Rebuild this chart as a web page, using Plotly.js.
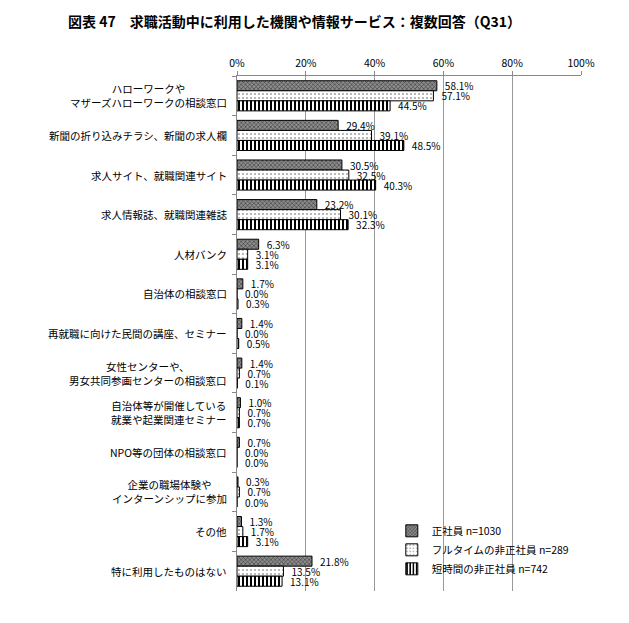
<!DOCTYPE html>
<html>
<head>
<meta charset="utf-8">
<script src="https://cdn.plot.ly/plotly-3.0.1.min.js"></script>
<style>
html,body{margin:0;padding:0;background:#fff;}
#chart{width:629px;height:623px;}
</style>
</head>
<body>
<div id="chart"></div>
<script>
const categories = [
  "ハローワークや<br>マザーズハローワークの相談窓口",
  "新聞の折り込みチラシ、新聞の求人欄",
  "求人サイト、就職関連サイト",
  "求人情報誌、就職関連雑誌",
  "人材バンク",
  "自治体の相談窓口",
  "再就職に向けた民間の講座、セミナー",
  "女性センターや、<br>男女共同参画センターの相談窓口",
  "自治体等が開催している<br>就業や起業関連セミナー",
  "NPO等の団体の相談窓口",
  "企業の職場体験や<br>インターンシップに参加",
  "その他",
  "特に利用したものはない"
];
const seriesNames = ["正社員 n=1030", "フルタイムの非正社員 n=289", "短時間の非正社員 n=742"];
const seiShain = [58.1, 29.4, 30.5, 23.2, 6.3, 1.7, 1.4, 1.4, 1.0, 0.7, 0.3, 1.3, 21.8];
const fullTime = [57.1, 39.1, 32.5, 30.1, 3.1, 0.0, 0.0, 0.7, 0.7, 0.0, 0.7, 1.7, 13.5];
const tanJikan = [44.5, 48.5, 40.3, 32.3, 3.1, 0.3, 0.5, 0.1, 0.7, 0.0, 0.0, 3.1, 13.1];
const xTicks = [0, 20, 40, 60, 80, 100];

const FONT = "'Noto Sans CJK JP', 'Noto Sans', sans-serif";
const patterns = [
  {shape: "x", fgcolor: "#2a2a2a", bgcolor: "#8c8c8c", size: 3, solidity: 0.3},
  {shape: ".", fgcolor: "#555", bgcolor: "#ffffff", size: 4, solidity: 0.12},
  {shape: "|", fgcolor: "#000", bgcolor: "#ffffff", size: 4, solidity: 0.5}
];
const allSeries = [seiShain, fullTime, tanJikan];

const traces = allSeries.map((vals, i) => ({
  type: "bar",
  orientation: "h",
  name: seriesNames[i],
  y: categories,
  x: vals,
  marker: {color: patterns[i].bgcolor, pattern: patterns[i], line: {color: "#000", width: 1}},
  text: vals.map(v => "\u2002" + v.toFixed(1) + "%"),
  textposition: "outside",
  constraintext: "none",
  cliponaxis: false,
  textfont: {family: FONT, size: 10, color: "#000"},
  hoverinfo: "none"
}));

const annotations = categories.map(c => ({
  xref: "paper", yref: "y", x: 0, y: c, xanchor: "right", yanchor: "middle",
  xshift: -8, align: "center", showarrow: false, text: c,
  font: {family: FONT, size: 10.5, color: "#000"}
}));

const layout = {
  width: 629, height: 623,
  margin: {l: 237, r: 48, t: 76, b: 32},
  paper_bgcolor: "#fff", plot_bgcolor: "#fff",
  font: {family: FONT, color: "#000"},
  title: {
    text: "図表 47　求職活動中に利用した機関や情報サービス：複数回答（Q31）",
    x: 68/629, xanchor: "left", xref: "container",
    y: 1 - 22/623, yanchor: "middle", yref: "container",
    font: {family: FONT, size: 14, color: "#000", weight: "bold"}
  },
  barmode: "group", bargap: 0.24, bargroupgap: 0,
  xaxis: {
    side: "top", range: [0, 100], tickvals: xTicks, ticktext: xTicks.map(t => t + "%"),
    showgrid: true, gridcolor: "#999", gridwidth: 1,
    showline: true, linecolor: "#888", linewidth: 1,
    ticks: "outside", ticklen: 4, tickcolor: "#888",
    tickfont: {family: FONT, size: 10.5, color: "#000"},
    zeroline: false, fixedrange: true
  },
  yaxis: {
    type: "category", autorange: "reversed",
    showticklabels: false, showline: true, linecolor: "#888", linewidth: 1,
    ticks: "outside", ticklen: 4, tickcolor: "#888", tickson: "boundaries",
    showgrid: false, zeroline: false, fixedrange: true
  },
  legend: {
    x: 0.45, y: 0.145, xanchor: "left", yanchor: "top",
    font: {family: FONT, size: 10.5, color: "#000"},
    bgcolor: "rgba(255,255,255,0)", tracegroupgap: 0, itemwidth: 30
  },
  annotations: annotations,
  showlegend: true
};

Plotly.newPlot("chart", traces, layout, {displayModeBar: false, staticPlot: true});
</script>
</body>
</html>
